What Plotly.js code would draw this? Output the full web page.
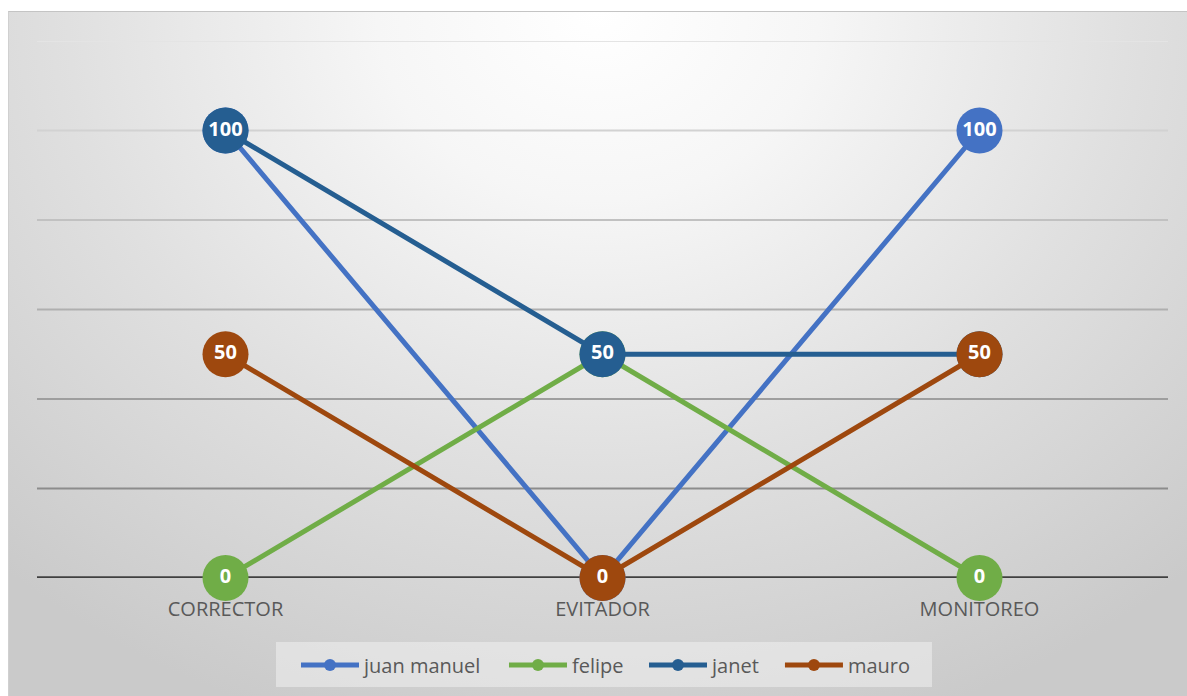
<!DOCTYPE html>
<html>
<head>
<meta charset="utf-8">
<script src="https://cdn.plot.ly/plotly-3.0.1.min.js"></script>
<style>
  html, body { margin: 0; padding: 0; background: #ffffff; }
  #wrap { position: relative; width: 1187px; height: 696px; overflow: hidden; }
  #bg {
    position: absolute; left: 8px; top: 11px; right: 0; bottom: 0;
    background: radial-gradient(ellipse 75% 110% at 50% 0%, #ffffff 0%, #f6f6f6 25%, #e0e0e0 60%, #cacaca 100%);
    border-top: 1px solid #c4c4c4;
    border-left: 1px solid #d0d0d0;
  }
  #chart { position: absolute; left: 0; top: 0; width: 1187px; height: 696px; }
</style>
</head>
<body>
<div id="wrap">
  <div id="bg"></div>
  <div id="chart"></div>
</div>
<script>
// Categories and series values
const categories = ['CORRECTOR', 'EVITADOR', 'MONITOREO'];
const juanManuel = [100, 0, 100];
const felipe = [0, 50, 0];
const janet = [100, 50, 50];
const mauro = [50, 0, 50];
const gridValues = [20, 40, 60, 80, 100, 120];

const seriesDefs = [
  { name: 'juan manuel', values: juanManuel, color: '#4472C4', legend: 'legend',  lx: 0.2290 },
  { name: 'felipe',      values: felipe,     color: '#70AD47', legend: 'legend2', lx: 0.4129 },
  { name: 'janet',       values: janet,      color: '#255E91', legend: 'legend3', lx: 0.5367 },
  { name: 'mauro',       values: mauro,      color: '#9E480E', legend: 'legend4', lx: 0.6569 }
];

const traces = seriesDefs.map(s => ({
  type: 'scatter',
  mode: 'lines+markers+text',
  name: s.name,
  legend: s.legend,
  x: categories,
  y: s.values,
  text: s.values.map(v => String(v)),
  textposition: 'middle center',
  textfont: { family: 'Open Sans, sans-serif', size: 20, color: '#ffffff', weight: 'bold' },
  line: { color: s.color, width: 5 },
  marker: { color: s.color, size: 46, line: { width: 0 } },
  cliponaxis: false,
  hoverinfo: 'skip'
}));

// Horizontal gridlines, fading lighter toward the top
const shapes = gridValues.map(v => {
  const t = (v - 20) / 100;
  const g = Math.round(140 + t * (228 - 140));
  return {
    type: 'line', xref: 'paper', yref: 'y',
    x0: 0, x1: 1, y0: v, y1: v,
    line: { color: `rgb(${g},${g},${g})`, width: 2 },
    layer: 'below'
  };
});
// Category axis baseline
shapes.push({
  type: 'line', xref: 'paper', yref: 'y',
  x0: 0, x1: 1, y0: 0, y1: 0,
  line: { color: '#404040', width: 3.5 },
  layer: 'below'
});
// Legend backing panel
shapes.push({
  type: 'rect', xref: 'paper', yref: 'paper',
  x0: 0.2113, x1: 0.7913, y0: -0.2030, y1: -0.1192,
  fillcolor: 'rgba(240,240,240,0.55)',
  line: { width: 0 },
  layer: 'below'
});

const legendBase = {
  orientation: 'h',
  xanchor: 'left',
  y: -0.162, yanchor: 'middle',
  bgcolor: 'rgba(0,0,0,0)',
  font: { family: 'Open Sans, sans-serif', size: 20, color: '#595959' },
  itemsizing: 'constant',
  itemwidth: 58
};

const layout = {
  width: 1187, height: 696,
  margin: { l: 37, r: 19, t: 41, b: 118 },
  paper_bgcolor: 'rgba(0,0,0,0)',
  plot_bgcolor: 'rgba(0,0,0,0)',
  showlegend: true,
  xaxis: {
    type: 'category',
    range: [-0.5, 2.5],
    showgrid: false, zeroline: false, showline: false,
    ticks: '',
    ticklabelstandoff: 17,
    tickfont: { family: 'Open Sans, sans-serif', size: 20, color: '#595959' },
    fixedrange: true
  },
  yaxis: {
    range: [0, 120],
    showgrid: false, zeroline: false, showline: false,
    showticklabels: false, ticks: '',
    fixedrange: true
  },
  shapes: shapes
};
seriesDefs.forEach(s => {
  layout[s.legend] = Object.assign({}, legendBase, { x: s.lx });
});

Plotly.newPlot('chart', traces, layout, { displayModeBar: false, staticPlot: true });
</script>
</body>
</html>
